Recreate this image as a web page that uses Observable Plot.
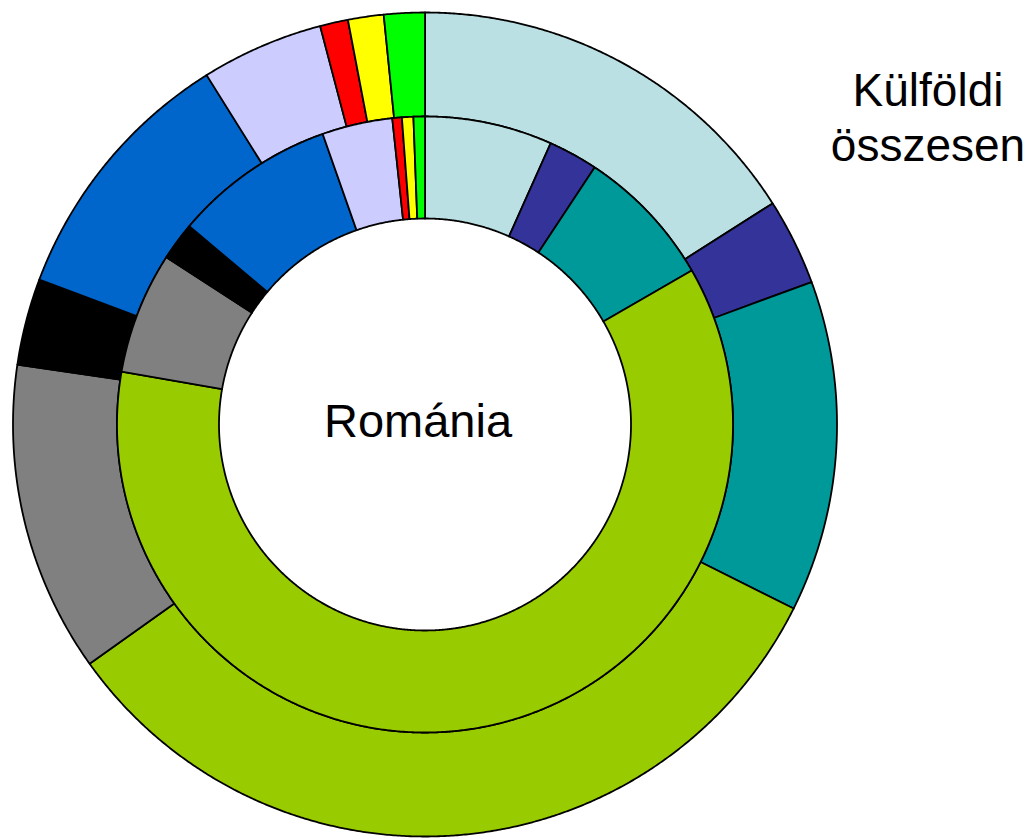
<!DOCTYPE html>
<html>
<head>
<meta charset="utf-8">
<script src="https://cdn.jsdelivr.net/npm/d3@7"></script>
<script src="https://cdn.jsdelivr.net/npm/@observablehq/plot@0.6"></script>
<style>
  html, body { margin: 0; padding: 0; background: #fff; }
  #chart svg { display: block; }
</style>
</head>
<body>
<div id="chart"></div>
<script>
// Categories (clockwise from 12 o'clock) and their colours
const categories = ["Kat. 1", "Kat. 2", "Kat. 3", "Kat. 4", "Kat. 5", "Kat. 6", "Kat. 7", "Kat. 8", "Kat. 9", "Kat. 10", "Kat. 11"];
const colors = ["#BBE0E3", "#333399", "#009999", "#99CC00", "#808080", "#000000", "#0066CC", "#CCCCFF", "#FF0000", "#FFFF00", "#00FF00"];
// Outer ring: Külföldi összesen (%)
const outerValues = [16.0, 3.4, 13.0, 32.8, 12.2, 3.4, 10.4, 4.8, 1.1, 1.4, 1.6];
// Inner ring: Románia (%)
const innerValues = [6.7, 2.6, 7.4, 61.2, 6.4, 2.0, 8.5, 3.7, 0.5, 0.6, 0.6];
const outerLabel = "Külföldi\nösszesen";
const innerLabel = "Románia";

// Build ring-segment polygons from the values (angles via d3.pie)
function ringPolygons(values, r0, r1, ringName) {
  const arcs = d3.pie().sort(null)(values);
  const pts = [];
  arcs.forEach((a, i) => {
    const span = a.endAngle - a.startAngle;
    const n = Math.max(2, Math.ceil(span / 0.005));
    const key = ringName + "-" + i;
    for (let k = 0; k <= n; k++) {
      const t = a.startAngle + span * k / n;
      pts.push({key, cat: categories[i], x: r1 * Math.sin(t), y: r1 * Math.cos(t)});
    }
    for (let k = n; k >= 0; k--) {
      const t = a.startAngle + span * k / n;
      pts.push({key, cat: categories[i], x: r0 * Math.sin(t), y: r0 * Math.cos(t)});
    }
  });
  return pts;
}

const R_OUT = 412, R_MID = 308, R_IN = 206;
const outerPts = ringPolygons(outerValues, R_MID, R_OUT, "outer");
const innerPts = ringPolygons(innerValues, R_IN, R_MID, "inner");

const chart = Plot.plot({
  width: 1033,
  height: 838,
  margin: 0,
  style: {fontFamily: "'Liberation Sans', Arial, sans-serif", background: "#fff"},
  x: {domain: [-R_OUT, R_OUT], range: [12.5, 836.5], axis: null},
  y: {domain: [-R_OUT, R_OUT], range: [836, 12], axis: null},
  color: {domain: categories, range: colors},
  marks: [
    Plot.line(outerPts, {x: "x", y: "y", z: "key", fill: "cat", stroke: "#000", strokeWidth: 1.8, curve: "linear-closed"}),
    Plot.line(innerPts, {x: "x", y: "y", z: "key", fill: "cat", stroke: "#000", strokeWidth: 1.8, curve: "linear-closed"}),
    Plot.text([innerLabel], {x: () => 0, y: () => 0, text: d => d, fontSize: 47, fill: "#000", textAnchor: "middle", lineAnchor: "middle", dx: -7, dy: -3}),
    Plot.text([outerLabel], {frameAnchor: "top-right", text: d => d, fontSize: 46, fill: "#000", textAnchor: "middle", lineAnchor: "top", lineHeight: 1.2, dx: -105.5, dy: 66})
  ]
});
document.getElementById("chart").appendChild(chart);
</script>
</body>
</html>
